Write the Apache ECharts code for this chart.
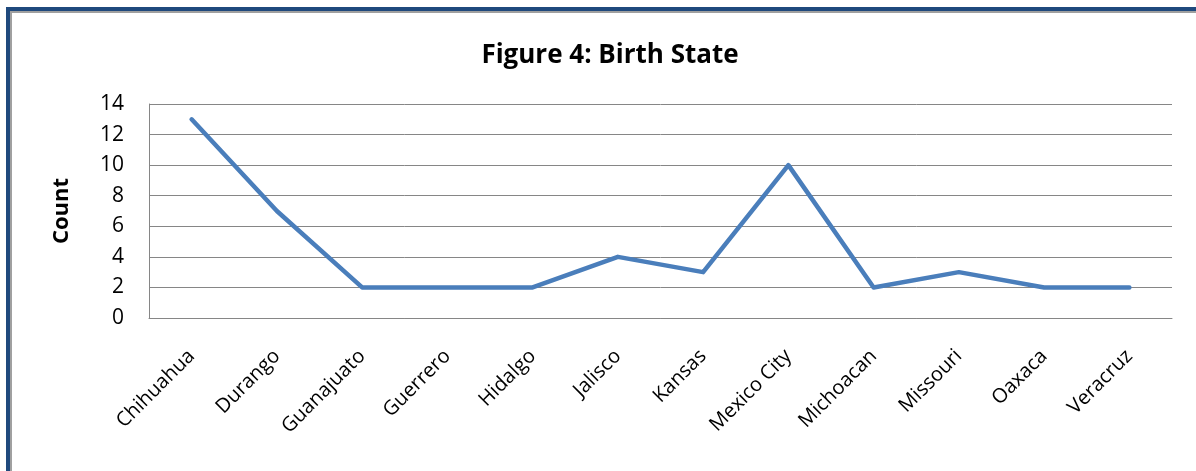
<!DOCTYPE html>
<html>
<head>
<meta charset="utf-8">
<script src="https://cdn.jsdelivr.net/npm/echarts@6/dist/echarts.min.js"></script>
<style>
html,body{margin:0;padding:0;background:#fff;width:1196px;height:471px;overflow:hidden;}
#frame{position:absolute;left:6px;top:7px;width:1200px;height:480px;border-top:4px solid #1f497d;border-left:4px solid #1f497d;box-sizing:border-box;}
#inner{position:absolute;left:0;top:0;width:100%;height:100%;border-top:2px solid #a0a0a0;border-left:2px solid #a0a0a0;box-sizing:border-box;}
#chart{position:absolute;left:0;top:0;width:1196px;height:471px;}
</style>
</head>
<body>
<div id="frame"><div id="inner"></div></div>
<div id="chart"></div>
<script>
const titleText = "Figure 4: Birth State";
const yAxisName = "Count";
const categories = ["Chihuahua","Durango","Guanajuato","Guerrero","Hidalgo","Jalisco","Kansas","Mexico City","Michoacan","Missouri","Oaxaca","Veracruz"];
const counts = [13, 7, 2, 2, 2, 4, 3, 10, 2, 3, 2, 2];
const yTicks = {min: 0, max: 14, interval: 2};

const chart = echarts.init(document.getElementById('chart'), null, {renderer: 'canvas'});
const font = "'Open Sans', 'Liberation Sans', sans-serif";
chart.setOption({
  animation: false,
  backgroundColor: 'transparent',
  title: {
    text: titleText,
    left: 605, top: 38, textAlign: 'center',
    textStyle: {fontFamily: font, fontWeight: 'bold', fontSize: 26, color: '#000'}
  },
  grid: {left: 149, right: 24, top: 104, bottom: 153, containLabel: false},
  xAxis: {
    type: 'category',
    data: categories,
    boundaryGap: true,
    axisLine: {show: true, lineStyle: {color: '#868686', width: 1}},
    axisTick: {show: false},
    axisLabel: {rotate: 45, margin: 35, color: '#000', fontFamily: font, fontSize: 20, interval: 0}
  },
  yAxis: {
    type: 'value',
    min: yTicks.min, max: yTicks.max, interval: yTicks.interval,
    name: yAxisName,
    nameLocation: 'middle',
    nameGap: 76,
    nameRotate: 90,
    nameTextStyle: {fontFamily: font, fontWeight: 'bold', fontSize: 22, color: '#000'},
    axisLine: {show: true, lineStyle: {color: '#868686', width: 1}},
    axisTick: {show: false},
    axisLabel: {margin: 25, color: '#000', fontFamily: font, fontSize: 21},
    splitLine: {show: true, lineStyle: {color: '#868686', width: 1}}
  },
  series: [{
    type: 'line',
    data: counts,
    symbol: 'none',
    lineStyle: {color: '#4a7ebb', width: 4.5, join: 'round', cap: 'round'},
    itemStyle: {color: '#4a7ebb'}
  }]
});
</script>
</body>
</html>
